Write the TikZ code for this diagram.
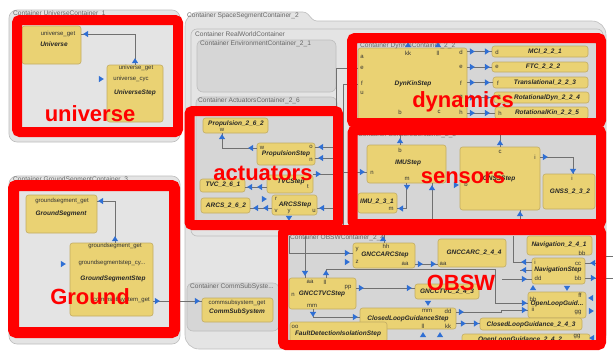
\documentclass[tikz,border=0pt]{standalone}
\usepackage{fontspec}
\setmainfont{Liberation Sans}
\usetikzlibrary{fit}
\definecolor{yel}{HTML}{EAD273}
\definecolor{ybord}{HTML}{C2AC64}
\definecolor{shellc}{HTML}{E4E4E4}
\definecolor{contc}{HTML}{D6D6D6}
\definecolor{bordc}{HTML}{BDBDBD}
\definecolor{tblue}{HTML}{2F6FD4}
\definecolor{wirec}{HTML}{707070}
\definecolor{annot}{HTML}{FF0000}
% yellow block: name, x1, y1, x2, y2
\newcommand\yb[5]{\node[ybox, fit={(#2,#3) (#4,#5)}] (#1) {};}
\tikzset{
  ybox/.style={draw=ybord, fill=yel, rounded corners=2.5pt, line width=0.6pt, inner sep=0pt},
  shell/.style={draw=bordc, fill=shellc, line width=0.6pt, rounded corners=8pt},
  cont/.style={draw=bordc, fill=contc, line width=0.6pt, rounded corners=6pt},
  outline/.style={draw=bordc, line width=0.6pt, rounded corners=6pt},
  wire/.style={draw=wirec, line width=0.7pt},
  lbl/.style={font=\fontsize{6}{6}\selectfont, text=black!80, inner sep=0pt},
  nm/.style={font=\bfseries\itshape\fontsize{6.5}{6.5}\selectfont, text=black!85, inner sep=0pt},
  ttl/.style={font=\fontsize{6.6}{7}\selectfont, text=black!60, inner sep=0pt, anchor=west},
  redbox/.style={draw=annot, line width=10pt, rounded corners=3pt},
  redtxt/.style={font=\bfseries\fontsize{22}{22}\selectfont, text=annot, inner sep=0pt},
  pics/tri/.style={code={\fill[tblue, rotate=#1] (2.8pt,0pt) -- (-2.2pt,3.2pt) -- (-2.2pt,-3.2pt) -- cycle;}}
}
\begin{document}
\begin{tikzpicture}[x=1pt,y=-1pt]
\useasboundingbox (0,0) rectangle (613,354);
\fill[white] (0,0) rectangle (613,354);

% ---------- containers ----------
\draw[shell] (9,10) rectangle (180,142);
\node[ttl] (t-uc) at (13,14) {Container UniverseContainer\_1};
\draw[shell] (9,176) rectangle (180,344);
\node[ttl] (t-gc) at (13,180) {Container GroundSegmentContainer\_3};

\draw[shell, rounded corners=14pt] (185,349) -- (185,12) [rounded corners=3pt] -- (306,12) -- (314,21) [rounded corners=14pt] -- (606,21) -- (606,349) -- cycle;
\node[ttl] (t-ss) at (187,16) {Container SpaceSegmentContainer\_2};
\draw[outline] (191,29) rectangle (603,236);
\node[ttl] (t-rw) at (195,34) {Container RealWorldContainer};
\draw[cont] (197,40) rectangle (336,92);
\node[ttl] (t-env) at (200,44) {Container EnvironmentContainer\_2\_1};
\draw[cont] (196,97) rectangle (337,229);
\node[ttl] (t-act) at (198,101) {Container ActuatorsContainer\_2\_6};
\draw[cont] (355,42) rectangle (598,121);
\draw[cont] (355,131) rectangle (598,222);
\node[ttl] (t-sen) at (358,135) {Container SensorsContainer\_2\_3};
\draw[cont] (287,233) rectangle (598,342);
\node[ttl] (t-obsw) at (290,238) {Container OBSWContainer\_2\_4};
\draw[cont] (187,283) rectangle (279,331);
\node[ttl] (t-comm) at (190,287) {Container CommSubSyste...};

% ---------- universe ----------
\yb{universe}{22}{26}{81}{64}
\yb{ustep}{107}{65}{163}{122}
\node[lbl] (p-ug1) at (58,34) {universe\_get};
\node[nm] (n-u) at (54,44) {Universe};
\node[lbl] (p-ug2) at (136,68) {universe\_get};
\node[lbl] (p-uc) at (131,79) {universe\_cyc};
\node[nm] (n-us) at (135,93) {UniverseStep};
\draw[wire] (ustep.north) |- ([yshift=11pt]universe.east);
\pic at (135,61) {tri=90};
\pic at (86,34) {tri=180};
\pic at (101,79) {tri=0};

% ---------- ground ----------
\yb{gseg}{26}{195}{97}{233}
\yb{gstep}{70}{243}{153}{316}
\yb{comm}{202}{298}{273}{322}
\node[lbl] (p-gg1) at (62,201) {groundsegment\_get};
\node[nm] (n-g) at (61,214) {GroundSegment};
\node[lbl] (p-gg2) at (115,246) {groundsegment\_get};
\node[lbl] (p-gc) at (112,263) {groundsegmentstep\_cy...};
\node[nm] (n-gs) at (113,279) {GroundSegmentStep};
\node[lbl, anchor=east] (p-cg1) at (150,300) {commsubsystem\_get};
\node[lbl] (p-cg2) at (237,303) {commsubsystem\_get};
\node[nm] (n-cs) at (237,312) {CommSubSystem};
\draw[wire] ([xshift=3.5pt]gstep.north) |- ([yshift=13pt]gseg.east);
\draw[wire] ([yshift=-21.5pt]gstep.east) -- ([yshift=-21.5pt]gstep.east -| comm.west);
\pic at (115,239) {tri=90};
\pic at (101,201) {tri=180};
\pic at (63,264) {tri=0};
\pic at (157,301) {tri=0};
\pic at (197,301) {tri=0};

% ---------- actuators ----------
\yb{prop}{203}{118}{268}{133}
\yb{propstep}{257}{143}{315}{165}
\yb{tvcstep}{267}{175}{313}{193}
\yb{tvc}{200}{179}{245}{192}
\yb{arcsstep}{272}{195}{317}{215}
\yb{arcs}{201}{198}{250}{213}
\node[nm] (n-prop) at (236,124) {Propulsion\_2\_6\_2};
\node[lbl] (p-pw) at (222,130) {w};
\node[lbl] (p-psw) at (262,148) {w};
\node[lbl] (p-pso) at (311,147) {o};
\node[nm] (n-ps) at (286,154) {PropulsionStep};
\node[lbl] (p-psn) at (311,160) {n};
\node[nm] (n-ts) at (291,182) {TVCStep};
\node[lbl] (p-tst) at (308,187) {t};
\node[nm] (n-tvc) at (223,185) {TVC\_2\_6\_1};
\node[nm] (n-as) at (295,205) {ARCSStep};
\node[lbl] (p-asr) at (276,199) {r};
\node[lbl] (p-asv) at (276,211) {v};
\node[lbl] (p-asu) at (314,211) {u};
\node[lbl] (p-asy) at (289,212) {y};
\node[nm] (n-arcs) at (226,206) {ARCS\_2\_6\_2};

\coordinate (busA) at (336,232);
\coordinate (busB) at (343,232);
\draw[wire] ([yshift=6pt]propstep.west) -| ([xshift=-13.5pt]prop.south);
\draw[wire] ([yshift=-3pt]tvcstep.west) -- ([yshift=-3pt]tvcstep.west -| tvc.east);
\draw[wire] ([yshift=-3pt]arcsstep.west) -- ([yshift=-3pt]arcsstep.west -| arcs.east);
\draw[wire] ([yshift=7pt]propstep.east) -- ([yshift=7pt]propstep.east -| busA);
\draw[wire] ([yshift=-4pt]propstep.east) -- ([yshift=-4pt]propstep.east -| busB);
\draw[wire] ([yshift=10pt]tvcstep.east) -- ([yshift=10pt]tvcstep.east -| busB);
\draw[wire] ([yshift=-3pt]arcsstep.east) -- ([yshift=-3pt]arcsstep.east -| busA);
\pic at (251,148) {tri=180};
\pic at (222,137) {tri=90};
\pic at (321,147) {tri=180};
\pic at (321,158) {tri=180};
\pic at (318,174) {tri=0};
\pic at (260,187) {tri=180};
\pic at (250,187) {tri=180};
\pic at (266,208) {tri=180};
\pic at (256,208) {tri=180};
\pic at (264,199) {tri=0};
\pic at (289,218) {tri=270};
\pic at (322,208) {tri=180};

% ---------- dynamics ----------
\yb{dynkin}{358}{48}{467}{124}
\node[ttl] (t-dyn) at (360,46) {Container DynKinContainer\_2\_2};
\yb{mci}{492}{46}{588}{57}
\yb{ftc}{492}{62}{588}{72}
\yb{trans}{493}{77}{588}{88}
\yb{rotdyn}{494}{92}{589}{103}
\yb{rotkin}{495}{107}{588}{119}
\node[nm] (n-dk) at (413,84) {DynKinStep};
\node[lbl] (p-da) at (362,57) {a};
\node[lbl] (p-de) at (362,68) {e};
\node[lbl] (p-df) at (362,83) {f};
\node[lbl] (p-du) at (362,93) {u};
\node[lbl] (p-dkk) at (408,53) {kk};
\node[lbl] (p-dll) at (438,53) {ll};
\node[lbl] (p-dd) at (461,52) {d};
\node[lbl] (p-de2) at (461,67) {e};
\node[lbl] (p-df2) at (461,83) {f};
\node[lbl] (p-dg2) at (461,98) {g};
\node[lbl] (p-dh2) at (461,112) {h};
\node[lbl] (p-db) at (400,112) {b};
\node[lbl] (p-dc) at (439,112) {c};
\node[lbl] (p-md) at (497,52) {d};
\node[nm] (n-mci) at (545,52) {MCI\_2\_2\_1};
\node[lbl] (p-fe) at (497,67) {e};
\node[nm] (n-ftc) at (543,67) {FTC\_2\_2\_2};
\node[lbl] (p-tf) at (498,83) {f};
\node[nm] (n-tr) at (545,83) {Translational\_2\_2\_3};
\node[lbl] (p-rg) at (499,98) {g};
\node[nm] (n-rd) at (547,98) {RotationalDyn\_2\_2\_4};
\node[lbl] (p-rh) at (500,113) {h};
\node[nm] (n-rk) at (547,113) {RotationalKin\_2\_2\_5};
\foreach \b in {mci,ftc,trans,rotdyn,rotkin}{
  \draw[wire] (dynkin.east |- \b.west) -- (\b.west);
}
\foreach \yy in {51.5,67,82.5,97.5,113}{
  \pic at (472,\yy) {tri=0};
  \pic at (487,\yy) {tri=0};
}
\pic at (408,45) {tri=90};
\pic at (438,45) {tri=90};
\draw[wire] (busA) |- ([yshift=18pt]dynkin.west);
\draw[wire] (busB) |- ([yshift=2pt]dynkin.west);

% ---------- sensors ----------
\yb{imustep}{367}{145}{446}{183}
\yb{gnssstep}{460}{147}{540}{210}
\yb{gnss}{543}{174}{595}{209}
\yb{imu}{358}{193}{397}{213}
\node[lbl] (p-ib) at (400,150) {b};
\node[nm] (n-is) at (408,163) {IMUStep};
\node[lbl] (p-in) at (372,173) {n};
\node[lbl] (p-im) at (407,179) {m};
\node[lbl] (p-gc2) at (500,152) {c};
\node[lbl] (p-gi) at (535,157) {i};
\node[nm] (n-gss) at (499,179) {GNSSStep};
\node[lbl] (p-gb) at (466,184) {b};
\node[lbl] (p-gni) at (572,178) {i};
\node[nm] (n-gnss) at (570,192) {GNSS\_2\_3\_2};
\node[nm] (n-imu) at (377,202) {IMU\_2\_3\_1};
\node[lbl] (p-imm) at (391,209) {m};
\draw[wire] ([yshift=21.5pt]gnssstep.east) -| ([xshift=4pt]gnss.north);
\draw[wire] (imustep.south) |- ([yshift=-5.5pt]imu.east);
\draw[wire] ([xshift=-6.5pt]imustep.north) -- ([xshift=-6.5pt]imustep.north |- dynkin.south);
\draw[wire] (gnssstep.north) -- (gnssstep.north |- dynkin.south);
\draw[wire] ([yshift=-8pt]imustep.west) -- ([yshift=-8pt]imustep.west -| busB);
\draw[wire] ([xshift=25.5pt]imustep.south) -- ++(0,-50pt);
\draw[wire] ([xshift=20pt]gnssstep.south) -- ++(0,-25pt);
\pic at (545,157) {tri=0};
\pic at (573,171) {tri=270};
\pic at (407,187) {tri=270};
\pic at (401,208.5) {tri=180};
\pic at (400,141) {tri=90};
\pic at (500,143) {tri=90};
\pic at (362,172) {tri=0};
\pic at (456,185) {tri=0};
\pic at (432,188) {tri=90};
\pic at (520,214) {tri=90};

% ---------- OBSW ----------
\yb{gnccarcstep}{353}{243}{415}{268}
\yb{gnccarc}{438}{239}{506}{267}
\yb{nav}{527}{236}{592}{255}
\yb{navstep}{532}{258}{585}{284}
\yb{olg}{528}{292}{586}{318}
\yb{gncctvcstep}{289}{278}{356}{309}
\yb{gncctvc}{415}{284}{479}{299}
\yb{clgstep}{360}{308}{456}{329}
\yb{clg}{480}{318}{582}{330}
\yb{fdi}{290}{322}{387}{342}
\yb{olg2}{462}{334}{590}{346}
\node[lbl] (p-hh) at (386,246) {hh};
\node[lbl] (p-y) at (357,250) {y};
\node[lbl] (p-z) at (357,262) {z};
\node[nm] (n-gas) at (385,255) {GNCCARCStep};
\node[lbl] (p-aa1) at (405,264) {aa};
\node[nm] (n-ga) at (474,253) {GNCCARC\_2\_4\_4};
\node[lbl] (p-aa2) at (443,264) {aa};
\node[nm] (n-nav) at (559,245) {Navigation\_2\_4\_1};
\node[lbl] (p-bb1) at (582,253) {bb};
\node[lbl] (p-ni) at (535,262) {i};
\node[lbl] (p-cc) at (578,264) {cc};
\node[nm] (n-ns) at (558,270) {NavigationStep};
\node[lbl] (p-dd1) at (538,278) {dd};
\node[lbl] (p-bb2) at (578,278) {bb};
\node[lbl] (p-ff) at (580,295) {ff};
\node[lbl] (p-ob) at (533,299) {bb};
\node[nm] (n-olg) at (557,304) {OpenLoopGuid...};
\node[lbl] (p-ii) at (533,309) {ii};
\node[lbl] (p-gg) at (578,313) {gg};
\node[lbl] (p-aa3) at (310,282) {aa};
\node[lbl] (p-ll1) at (325,282) {ll};
\node[lbl] (p-n2) at (293,295) {n};
\node[nm] (n-gts) at (322,294) {GNCCTVCStep};
\node[lbl] (p-pp) at (348,288) {pp};
\node[lbl] (p-mm1) at (312,306) {mm};
\node[nm] (n-gt) at (447,292) {GNCCTVC\_2\_4\_3};
\node[lbl] (p-mm2) at (427,311) {mm};
\node[lbl] (p-dd2) at (448,311) {dd};
\node[nm] (n-cls) at (408,319) {ClosedLoopGuidanceStep};
\node[lbl] (p-ll2) at (423,326) {ll};
\node[lbl] (p-kk) at (448,326) {kk};
\node[nm] (n-cl) at (531,325) {ClosedLoopGuidance\_2\_4\_3};
\node[lbl] (p-oo) at (295,327) {oo};
\node[nm] (n-fdi) at (338,334) {FaultDetectionIsolationStep};
\node[nm] (n-olg2) at (520,340) {OpenLoopGuidance\_2\_4\_2};
\node[lbl] (p-gg2b) at (577,337) {gg};

\coordinate (inA) at (289,236);
\coordinate (inC) at (305,236);
\coordinate (jn1) at (495,269);
\coordinate (jn3) at (513,236);
\draw[wire] (inA) |- ([yshift=2.5pt]gnccarcstep.west);
\draw[wire] (inC) -- (inC |- gncctvcstep.north);
\draw[wire] ([xshift=3.5pt]gncctvcstep.north) |- (jn1) |- ([yshift=2pt]olg.west);
\draw[wire] ([yshift=5.5pt]gncctvcstep.east) -- ([yshift=5.5pt]gncctvcstep.east -| gncctvc.west);
\draw[wire] ([xshift=-9.5pt]gncctvcstep.south) |- ([yshift=1.5pt]clgstep.west);
\draw[wire] ([yshift=-8.5pt]gnccarcstep.east) -- ([yshift=-8.5pt]gnccarcstep.east -| gnccarc.west);
\draw[wire] (gnccarcstep.north) -- ++(0,12pt);
\draw[wire] ([yshift=-5pt]clgstep.east) -- ([yshift=-5pt]clgstep.east -| clg.west);
\draw[wire] ([yshift=6.5pt]clgstep.east) -- ++(45pt,0) |- ([yshift=-5pt]olg.west);
\draw[wire] (jn3) |- ([yshift=9pt]navstep.west);
\draw[wire] ([yshift=1pt]navstep.west) -- ++(-12pt,0);
\draw[wire] ([yshift=-8pt]navstep.west) -- ++(-30pt,0);
\draw[wire] ([yshift=-7pt]navstep.east) -- ++(28pt,0);
\draw[wire] ([yshift=8pt]navstep.east) -- ++(13pt,0) -- ++(0,7pt) -- ++(15pt,0);
\pic at (383,239) {tri=90};
\pic at (347,253) {tri=0};
\pic at (347,262) {tri=0};
\pic at (420,264) {tri=0};
\pic at (433,264) {tri=0};
\pic at (305,273) {tri=270};
\pic at (326,273) {tri=90};
\pic at (361,288) {tri=0};
\pic at (409,288) {tri=0};
\pic at (313,314) {tri=270};
\pic at (355,317) {tri=0};
\pic at (428,303) {tri=270};
\pic at (461,312) {tri=0};
\pic at (463,323.5) {tri=0};
\pic at (476,323.5) {tri=0};
\pic at (423,335) {tri=90};
\pic at (440,335) {tri=90};
\pic at (524,262) {tri=180};
\pic at (524,270) {tri=180};
\pic at (524,279) {tri=0};
\pic at (533,288) {tri=90};
\pic at (567,288) {tri=270};
\pic at (593,263) {tri=180};
\pic at (593,278) {tri=0};
\pic at (524,303) {tri=0};
\pic at (524,310) {tri=0};
\pic at (591,298) {tri=180};
\pic at (591,311) {tri=0};
\pic at (592,338) {tri=180};

% ---------- highlight frames ----------
\draw[redbox] (17,20) rectangle (178,132);
\draw[redbox, line width=11pt] (13.5,185.5) rectangle (174.5,332.5);
\draw[redbox] (189.5,111) rectangle (338,225);
\draw[redbox] (352,38) rectangle (601,123);
\draw[redbox] (352.5,130) rectangle (601,224);
\draw[redbox] (283,230) rectangle (601,345);

\node[redtxt] (r-u) at (90,114) {universe};
\node[redtxt] (r-g) at (90,297) {Ground};
\node[redtxt] (r-a) at (263,173) {actuators};
\node[redtxt] (r-d) at (463,102) {dynamics};
\node[redtxt] (r-s) at (463,178) {sensors};
\node[redtxt] (r-o) at (461,283) {OBSW};
\end{tikzpicture}
\end{document}
